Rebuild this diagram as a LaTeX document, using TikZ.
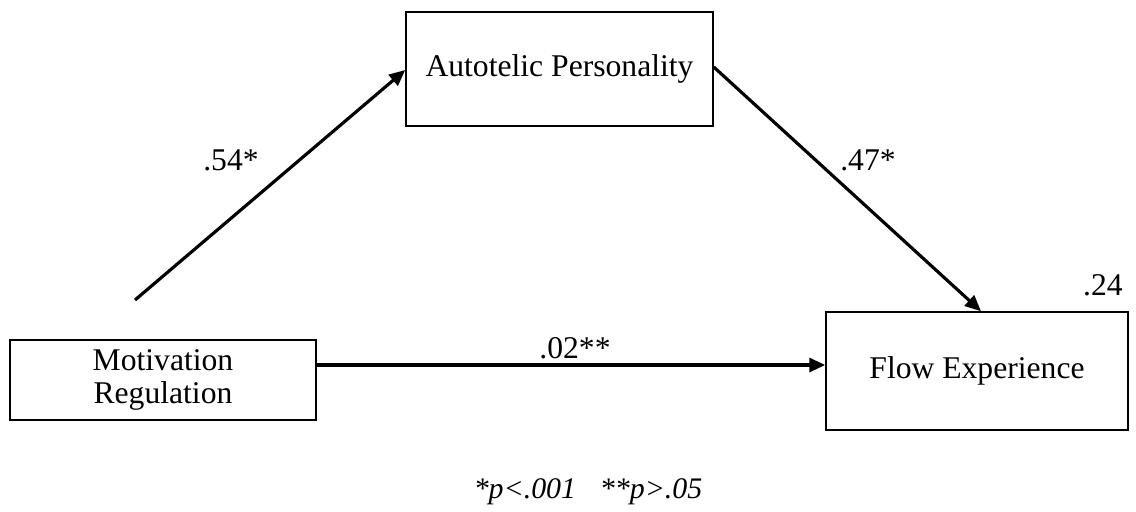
\documentclass[tikz,border=0pt]{standalone}
\usepackage{fontspec}
\setmainfont{Liberation Serif}
\usepackage{tikz}
\usetikzlibrary{positioning,arrows.meta}

\begin{document}
\begin{tikzpicture}[
      x=0.02cm, y=-0.02cm,
      font=\fontsize{18}{19}\selectfont,
      box/.style={draw, line width=0.9pt, align=center, inner sep=0pt},
      arr/.style={-{Triangle[length=3.2mm, width=2.8mm]}, line width=1.8pt},
      lbl/.style={inner sep=0pt}
    ]
    \useasboundingbox (0,0) rectangle (1136,511);
    \node[box, minimum width=6.12cm, minimum height=1.6cm] (mot) at (163,380) {Motivation\\Regulation};
    \node[box, minimum width=6.14cm, minimum height=2.28cm] (auto) at (559.5,69) {Autotelic Personality};
    \node[box, minimum width=6.04cm, minimum height=2.36cm] (flow) at (977,371) {Flow Experience};
    \coordinate (start) at (135,300);

    \draw[arr] (start) -- ([yshift=-0.02cm]auto.west);
    \draw[arr] ([yshift=0.04cm]auto.east) -- ([xshift=0.08cm]flow.north);
    \draw[arr] ([yshift=0.3cm]mot.east) -- ([yshift=0.3cm]mot.east -| flow.west);

    \node[lbl] (a) at (231,160) {.54*};
    \node[lbl] (b) at (868,160) {.47*};
    \node[lbl] (c) at (575,348) {.02**};
    \node[lbl] (r) at (1103,285) {.24};
    \node[lbl, font=\fontsize{17}{19}\selectfont] (note) at (588,492) {\itshape *p<.001\hspace{0.8em}**p>.05};
  \end{tikzpicture}
\end{document}
